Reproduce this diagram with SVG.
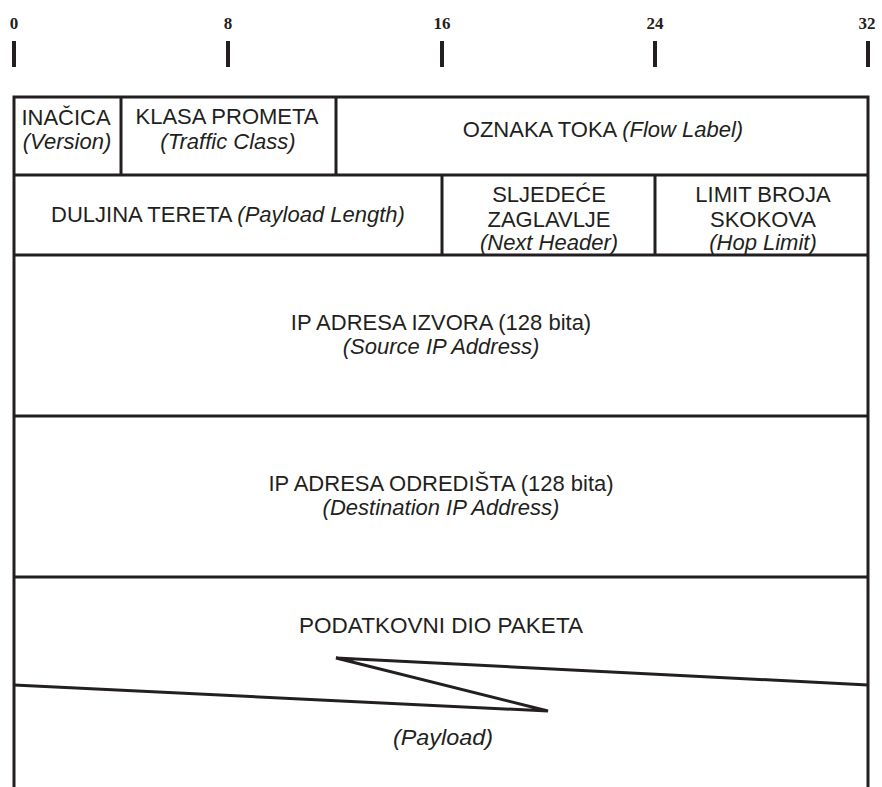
<svg xmlns="http://www.w3.org/2000/svg" width="882" height="787" viewBox="0 0 882 787">
<style>
.b{fill:none;stroke:#231f20;stroke-width:3}
.t{font-family:"Liberation Sans",Arial,sans-serif;font-size:22px;fill:#231f20;text-anchor:middle}
.i{font-style:italic}
.n{font-family:"Liberation Serif","Times New Roman",serif;font-weight:bold;font-size:17px;fill:#231f20;text-anchor:middle}
.k{stroke:#231f20;stroke-width:4}
</style>
<rect width="882" height="787" fill="#fff"/>
<g id="scale">
<text class="n" x="14" y="29">0</text>
<text class="n" x="228" y="29">8</text>
<text class="n" x="442" y="29">16</text>
<text class="n" x="655" y="29">24</text>
<text class="n" x="867" y="29">32</text>
<line class="k" x1="14" y1="41" x2="14" y2="67"/>
<line class="k" x1="228" y1="41" x2="228" y2="67"/>
<line class="k" x1="442" y1="41" x2="442" y2="67"/>
<line class="k" x1="655" y1="41" x2="655" y2="67"/>
<line class="k" x1="868" y1="41" x2="868" y2="67"/>
</g>
<g id="frame">
<path class="b" d="M14,787 V97 H868 V787"/>
<line class="b" x1="14" y1="175" x2="868" y2="175"/>
<line class="b" x1="14" y1="255" x2="868" y2="255"/>
<line class="b" x1="14" y1="416" x2="868" y2="416"/>
<line class="b" x1="14" y1="577" x2="868" y2="577"/>
<line class="b" x1="121" y1="97" x2="121" y2="175"/>
<line class="b" x1="336" y1="97" x2="336" y2="175"/>
<line class="b" x1="442" y1="175" x2="442" y2="255"/>
<line class="b" x1="655" y1="175" x2="655" y2="255"/>
</g>
<g id="version"><text class="t" x="66" y="125">INAČICA</text><text class="t i" x="67" y="149">(Version)</text></g>
<g id="traffic"><text class="t" x="227" y="124">KLASA PROMETA</text><text class="t i" x="228" y="149">(Traffic Class)</text></g>
<g id="flow"><text class="t" x="603" y="137">OZNAKA TOKA <tspan class="i">(Flow Label)</tspan></text></g>
<g id="paylen"><text class="t" x="228" y="222">DULJINA TERETA <tspan class="i">(Payload Length)</tspan></text></g>
<g id="next"><text class="t" x="549" y="202">SLJEDEĆE</text><text class="t" x="549" y="227">ZAGLAVLJE</text><text class="t i" x="549" y="250">(Next Header)</text></g>
<g id="hop"><text class="t" x="763" y="202">LIMIT BROJA</text><text class="t" x="763" y="227">SKOKOVA</text><text class="t i" x="763" y="250">(Hop Limit)</text></g>
<g id="src"><text class="t" x="441" y="330">IP ADRESA IZVORA (128 bita)</text><text class="t i" x="441" y="354">(Source IP Address)</text></g>
<g id="dst"><text class="t" x="441" y="491">IP ADRESA ODREDIŠTA (128 bita)</text><text class="t i" x="441" y="515">(Destination IP Address)</text></g>
<g id="payload">
<text class="t" x="441" y="633" textLength="284" lengthAdjust="spacingAndGlyphs">PODATKOVNI DIO PAKETA</text>
<text class="t i" x="443" y="745" textLength="100" lengthAdjust="spacingAndGlyphs">(Payload)</text>
<polyline class="b" points="14,685 548,711 336,658 868,685" stroke-linejoin="miter"/>
</g>
</svg>
